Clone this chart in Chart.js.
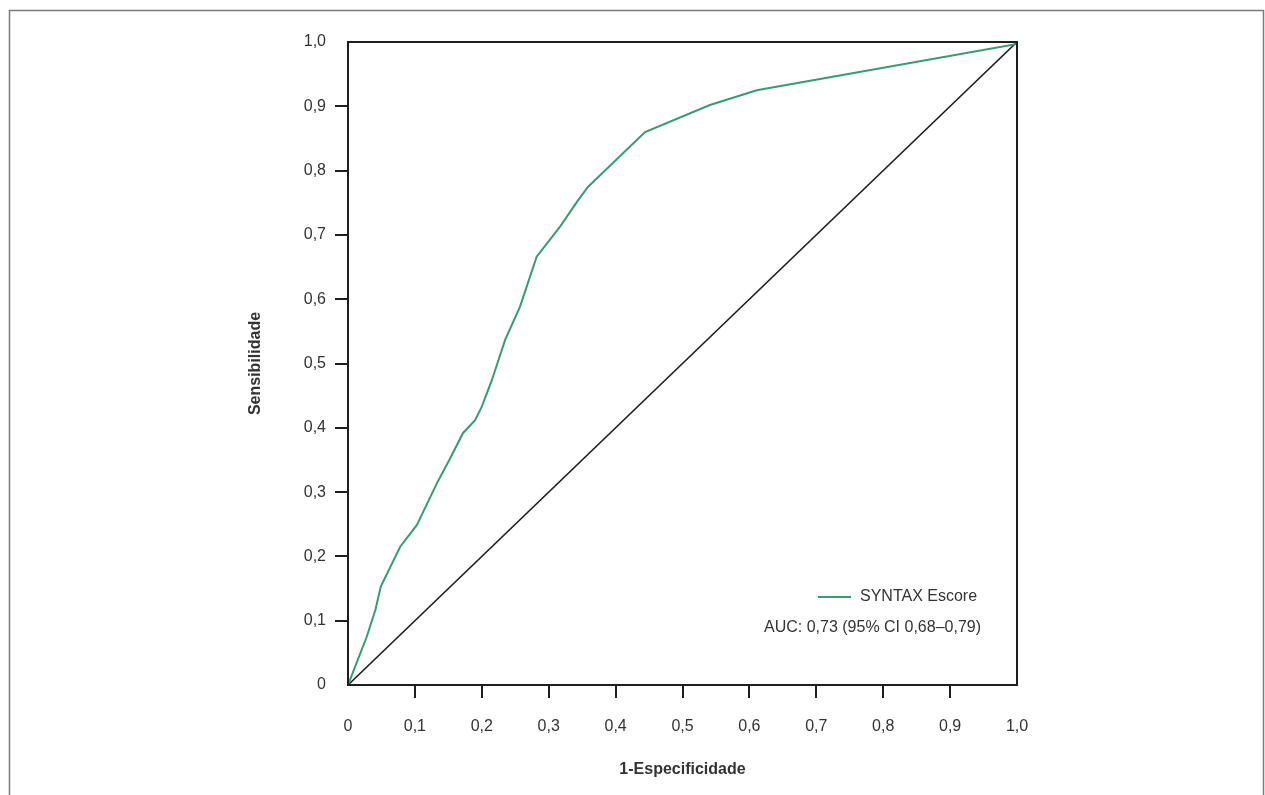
<!DOCTYPE html>
<html>
<head>
<meta charset="utf-8">
<script src="https://cdn.jsdelivr.net/npm/chart.js@4.4.1/dist/chart.umd.min.js"></script>
<style>
  html, body { margin: 0; padding: 0; background: #fff; }
  #wrap { width: 1265px; height: 795px; position: relative; }
</style>
</head>
<body>
<div id="wrap"><canvas id="c" width="1265" height="795"></canvas></div>
<script>
// ---- data ----
const seriesLabel = 'SYNTAX Escore';
const aucText = 'AUC: 0,73 (95% CI 0,68–0,79)';
const fpr = [0, 0.028, 0.041, 0.049, 0.078, 0.103, 0.133, 0.152, 0.172, 0.190, 0.200, 0.215, 0.235, 0.257, 0.282, 0.317, 0.344, 0.359, 0.444, 0.541, 0.611, 1.0];
const tpr = [0, 0.075, 0.117, 0.153, 0.215, 0.249, 0.314, 0.351, 0.392, 0.412, 0.433, 0.474, 0.537, 0.588, 0.666, 0.713, 0.754, 0.775, 0.860, 0.902, 0.925, 0.997];
const diagX = [0, 1];
const diagY = [0, 1];
const xTickLabels = ['0', '0,1', '0,2', '0,3', '0,4', '0,5', '0,6', '0,7', '0,8', '0,9', '1,0'];
const yTickLabels = ['0', '0,1', '0,2', '0,3', '0,4', '0,5', '0,6', '0,7', '0,8', '0,9', '1,0'];
const xTitle = '1-Especificidade';
const yTitle = 'Sensibilidade';

const GREEN = '#379c70';
const AXIS = '#1e1e1e';
const TEXT = '#333333';
const FONT = "'Liberation Sans', Arial, Helvetica, sans-serif";

const rocPoints = fpr.map((x, i) => ({ x: x, y: tpr[i] }));
const diagPoints = diagX.map((x, i) => ({ x: x, y: diagY[i] }));

const tickColorFn = (ctx) => (ctx.tick && (ctx.tick.value === 0 || ctx.tick.value === 1)) ? 'rgba(0,0,0,0)' : AXIS;

const framePlugin = {
  id: 'frame',
  beforeDraw(chart) {
    const ctx = chart.ctx;
    ctx.save();
    ctx.strokeStyle = '#7a7a7a';
    ctx.lineWidth = 1.5;
    ctx.beginPath();
    ctx.moveTo(9.5, 795);
    ctx.lineTo(9.5, 10.5);
    ctx.lineTo(1263.5, 10.5);
    ctx.lineTo(1263.5, 795);
    ctx.stroke();
    ctx.restore();
  },
  afterDraw(chart) {
    const a = chart.chartArea;
    const ctx = chart.ctx;
    ctx.save();
    ctx.strokeStyle = AXIS;
    ctx.lineWidth = 2;
    ctx.strokeRect(a.left, a.top, a.right - a.left, a.bottom - a.top);
    // legend
    const ly = a.bottom - 88;
    ctx.strokeStyle = GREEN;
    ctx.lineWidth = 2;
    ctx.beginPath();
    ctx.moveTo(a.right - 199, ly);
    ctx.lineTo(a.right - 166, ly);
    ctx.stroke();
    ctx.fillStyle = TEXT;
    ctx.font = '16px ' + FONT;
    ctx.textBaseline = 'middle';
    ctx.textAlign = 'left';
    ctx.fillText(chart.data.datasets[0].label, a.right - 157, ly);
    ctx.textAlign = 'right';
    ctx.fillText(aucText, a.right - 36, a.bottom - 57);
    ctx.restore();
  }
};

new Chart(document.getElementById('c'), {
  type: 'scatter',
  data: {
    datasets: [
      { label: seriesLabel, data: rocPoints, showLine: true, borderColor: GREEN, borderWidth: 2, pointRadius: 0, tension: 0, fill: false },
      { label: 'diag', data: diagPoints, showLine: true, borderColor: AXIS, borderWidth: 1.6, pointRadius: 0, fill: false }
    ]
  },
  options: {
    responsive: false,
    animation: false,
    devicePixelRatio: 1,
    layout: { padding: { left: 230, top: 42, right: 248, bottom: 0 } },
    plugins: { legend: { display: false }, tooltip: { enabled: false } },
    scales: {
      x: {
        type: 'linear', min: 0, max: 1,
        afterFit: (s) => { s.height = 110; },
        ticks: { stepSize: 0.1, color: TEXT, font: { family: FONT, size: 16 }, padding: 19,
          callback: (v, i) => xTickLabels[i], maxRotation: 0, autoSkip: false },
        grid: { drawOnChartArea: false, drawTicks: true, tickLength: 13, tickWidth: 2, tickColor: tickColorFn, color: AXIS, lineWidth: 2 },
        border: { display: true, color: AXIS, width: 2 },
        title: { display: true, text: xTitle, color: TEXT, font: { family: FONT, size: 16, weight: 'bold' }, padding: { top: 0, bottom: 16 } }
      },
      y: {
        type: 'linear', min: 0, max: 1,
        afterFit: (s) => { s.width = 118; },
        ticks: { stepSize: 0.1, color: TEXT, font: { family: FONT, size: 16 }, padding: 9,
          callback: (v, i) => yTickLabels[i], autoSkip: false },
        grid: { drawOnChartArea: false, drawTicks: true, tickLength: 13, tickWidth: 2, tickColor: tickColorFn, color: AXIS, lineWidth: 2 },
        border: { display: true, color: AXIS, width: 2 },
        title: { display: true, text: yTitle, color: TEXT, font: { family: FONT, size: 16, weight: 'bold' }, padding: { top: 16, bottom: 0 } }
      }
    }
  },
  plugins: [framePlugin]
});
</script>
</body>
</html>
